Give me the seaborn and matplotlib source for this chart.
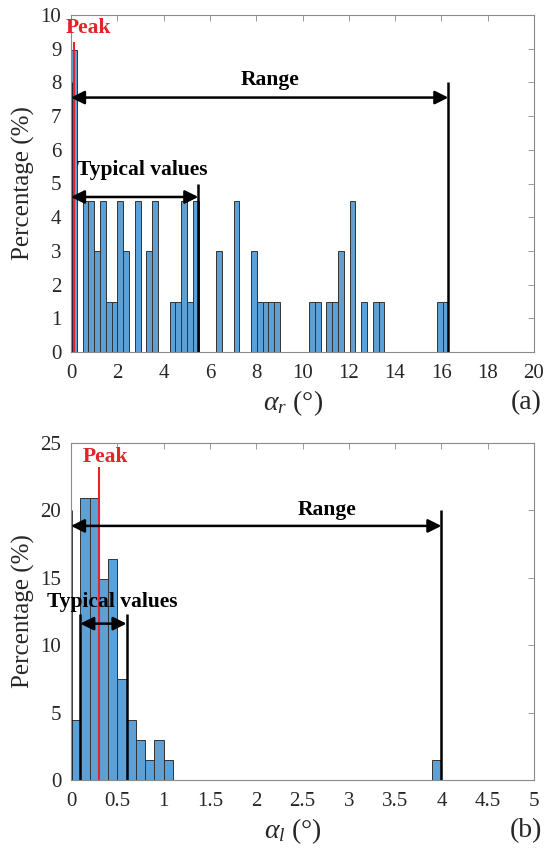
import numpy as np
import pandas as pd
import matplotlib
matplotlib.use("Agg")
import matplotlib.pyplot as plt
import seaborn as sns

# ---------------- data ----------------
# (a) alpha_r histogram: bin width and bin indices with percentages
ar_bin_width = 16.3 / 65
ar_bins = [0, 2, 3, 4, 5, 6, 7, 8, 9, 11, 13, 14, 17, 18, 19, 20, 21,
           25, 28, 31, 32, 33, 34, 35, 41, 42, 44, 45, 46, 48, 50, 52, 53, 63, 64]
ar_pct = [8.96, 4.48, 4.48, 2.99, 4.48, 1.49, 1.49, 4.48, 2.99, 4.48, 2.99, 4.48, 1.49, 1.49, 4.48, 1.49, 4.48,
          2.99, 4.48, 2.99, 1.49, 1.49, 1.49, 1.49, 1.49, 1.49, 1.49, 1.49, 2.99, 4.48, 1.49, 1.49, 1.49, 1.49, 1.49]
ar_peak = 0.15
ar_range = (0.0, 16.3)
ar_typical = (0.0, 5.5)

# (b) alpha_l histogram
al_bin_width = 0.1
al_bins = [0, 1, 2, 3, 4, 5, 6, 7, 8, 9, 10, 39]
al_pct = [4.48, 20.9, 20.9, 14.93, 16.42, 7.46, 4.48, 2.99, 1.49, 2.99, 1.49, 1.49]
al_peak = 0.30
al_range = (0.0, 4.0)
al_typical = (0.1, 0.6)

# ---------------- style ----------------
sns.set_theme(style="white")
plt.rcParams['font.family'] = ['Liberation Serif', 'DejaVu Serif']
plt.rcParams['mathtext.fontset'] = 'custom'
plt.rcParams['mathtext.it'] = 'Liberation Serif:italic'
plt.rcParams['mathtext.rm'] = 'Liberation Serif'

BAR = '#5DA0D6'
EDGE = '#333333'
RED = '#E3242B'
SPINE = '#8a8a8a'
TXT = '#262626'
ANN = 15.5

fig = plt.figure(figsize=(5.47, 8.52), dpi=100)
ax1 = fig.add_axes([71/547, 1-352/852, 463/547, 337/852])
ax2 = fig.add_axes([71/547, 1-780/852, 463/547, 337/852])


def hist(ax, bins, pct, w, nb):
    df = pd.DataFrame({'x': [(b + 0.5) * w for b in bins], 'p': pct})
    sns.histplot(data=df, x='x', weights='p', binwidth=w, binrange=(0, nb * w), ax=ax,
                 color=BAR, edgecolor=EDGE, linewidth=0.7, alpha=1.0)


hist(ax1, ar_bins, ar_pct, ar_bin_width, 66)
hist(ax2, al_bins, al_pct, al_bin_width, 41)


def style(ax, xlim, xticks, ylim, yticks, xlabels):
    ax.set_xlim(*xlim)
    ax.set_ylim(*ylim)
    ax.set_xticks(xticks)
    ax.set_xticklabels(xlabels)
    ax.set_yticks(yticks)
    ax.tick_params(direction='in', top=True, right=True, length=4, width=0.6,
                   color=SPINE, labelsize=15, labelcolor=TXT)
    ax.tick_params(axis='x', pad=9)
    ax.tick_params(axis='y', pad=7)
    for s in ax.spines.values():
        s.set_color(SPINE)
        s.set_linewidth(0.8)
        s.set_visible(True)
    ax.set_ylabel('Percentage (%)', fontsize=18, color=TXT)
    ax.yaxis.label.set_va('center')
    ax.yaxis.set_label_coords(-0.102, 0.5)


style(ax1, (0, 20), np.arange(0, 21, 2), (0, 10), np.arange(0, 11, 1),
      [str(v) for v in range(0, 21, 2)])
style(ax2, (0, 5), np.arange(0, 5.01, 0.5), (0, 25), np.arange(0, 26, 5),
      ['0', '0.5', '1', '1.5', '2', '2.5', '3', '3.5', '4', '4.5', '5'])

ax1.set_xlabel(r'$\alpha_r$ (°)', fontsize=20, color=TXT)
ax1.xaxis.label.set_va('center')
ax1.xaxis.set_label_coords(0.48, -0.151)
ax2.set_xlabel(r'$\alpha_l$ (°)', fontsize=20, color=TXT)
ax2.xaxis.label.set_va('center')
ax2.xaxis.set_label_coords(0.48, -0.151)
ax1.text(1.017, -0.151, '(a)', transform=ax1.transAxes, ha='right', va='center', fontsize=20, color=TXT)
ax2.text(1.017, -0.151, '(b)', transform=ax2.transAxes, ha='right', va='center', fontsize=20, color=TXT)


def arrow(ax, x0, x1, y):
    ax.annotate('', xy=(x1, y), xytext=(x0, y),
                arrowprops=dict(arrowstyle='<|-|>', color='black', lw=1.8,
                                mutation_scale=20, shrinkA=0, shrinkB=0))


# (a) annotations
ax1.vlines([ar_range[0], ar_range[1]], 0, 8.0, color='black', lw=1.8)
ax1.vlines(ar_typical[1], 0, 5.0, color='black', lw=1.8)
ax1.vlines(ar_peak, 0, 9.2, color=RED, lw=1.5)
arrow(ax1, ar_range[0], ar_range[1], 7.55)
arrow(ax1, ar_typical[0], ar_typical[1], 4.6)
ax1.text(8.6, 8.07, 'Range', ha='center', va='center', fontsize=ANN, fontweight='bold', color='black')
ax1.text(3.06, 5.4, 'Typical values', ha='center', va='center', fontsize=ANN, fontweight='bold', color='black')
ax1.text(0.755, 9.61, 'Peak', ha='center', va='center', fontsize=ANN, fontweight='bold', color=RED)

# (b) annotations
ax2.vlines([al_range[0], al_range[1]], 0, 20.0, color='black', lw=1.8)
ax2.vlines([al_typical[0], al_typical[1]], 0, 12.35, color='black', lw=1.8)
ax2.vlines(al_peak, 0, 23.2, color=RED, lw=1.5)
arrow(ax2, al_range[0], al_range[1], 18.85)
arrow(ax2, al_typical[0], al_typical[1], 11.6)
ax2.text(2.77, 20.0, 'Range', ha='center', va='center', fontsize=ANN, fontweight='bold', color='black')
ax2.text(0.445, 13.2, 'Typical values', ha='center', va='center', fontsize=ANN, fontweight='bold', color='black')
ax2.text(0.37, 23.98, 'Peak', ha='center', va='center', fontsize=ANN, fontweight='bold', color=RED)

fig.savefig('out.png', dpi=100)
